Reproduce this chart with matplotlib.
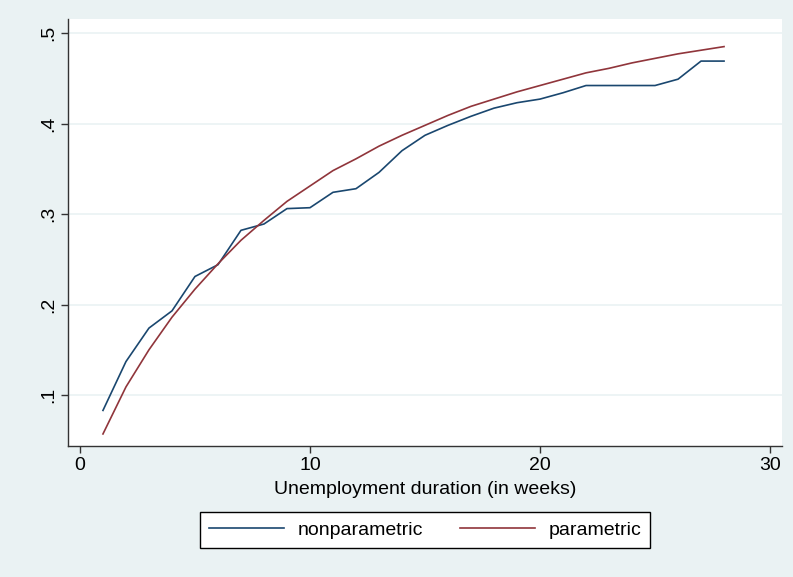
import matplotlib
matplotlib.use("Agg")
import matplotlib.pyplot as plt

# weeks of unemployment
weeks = list(range(1, 29))

# cumulative exit probability, Kaplan-Meier style estimate
nonparametric = [0.083, 0.137, 0.174, 0.193, 0.231, 0.244, 0.282, 0.289,
                 0.306, 0.307, 0.324, 0.328, 0.346, 0.370, 0.387, 0.398,
                 0.408, 0.417, 0.423, 0.427, 0.434, 0.442, 0.442, 0.442,
                 0.442, 0.449, 0.469, 0.469]

# fitted parametric curve
parametric = [0.057, 0.109, 0.150, 0.186, 0.217, 0.245, 0.271, 0.293,
              0.314, 0.331, 0.348, 0.361, 0.375, 0.387, 0.398, 0.409,
              0.419, 0.427, 0.435, 0.442, 0.449, 0.456, 0.461, 0.467,
              0.472, 0.477, 0.481, 0.485]

xticks = [0, 10, 20, 30]
yticks = [0.1, 0.2, 0.3, 0.4, 0.5]
ytick_labels = [".1", ".2", ".3", ".4", ".5"]

bg = "#eaf2f3"
blue = "#1a476f"
red = "#90353b"

plt.rcParams["font.family"] = ["Liberation Sans", "DejaVu Sans"]

fig = plt.figure(figsize=(7.93, 5.77), dpi=100, facecolor=bg)
W, H = 793, 577
ax = fig.add_axes([68 / W, 1 - 446 / H, (782 - 68) / W, (446 - 19) / H])
ax.set_facecolor("white")

ax.plot(weeks, nonparametric, color=blue, lw=1.2, label="nonparametric")
ax.plot(weeks, parametric, color=red, lw=1.2, label="parametric")

ax.set_xlim(-0.52, 30.52)
ax.set_ylim(0.0437, 0.5155)

ax.set_xticks(xticks)
ax.set_yticks(yticks)
ax.set_yticklabels(ytick_labels, rotation=90, va="center")
ax.tick_params(axis="both", direction="out", length=5, width=1, color="#333333",
               labelsize=14, pad=3)
ax.grid(axis="y", color=bg, lw=1.2)
ax.set_axisbelow(True)

for side in ["top", "right"]:
    ax.spines[side].set_visible(False)
for side in ["left", "bottom"]:
    ax.spines[side].set_color("#333333")
    ax.spines[side].set_linewidth(1)

ax.set_xlabel("Unemployment duration (in weeks)", fontsize=14, labelpad=5)

leg = fig.legend(loc="center", bbox_to_anchor=(425 / W, 1 - 530 / H),
                 ncol=2, fontsize=14, frameon=True, fancybox=False,
                 edgecolor="black", facecolor="white", framealpha=1,
                 handlelength=3.85, columnspacing=1.9, handletextpad=0.7,
                 borderpad=0.45, borderaxespad=0)
leg.get_frame().set_linewidth(1)

fig.savefig("out.png", dpi=100, facecolor=bg)
